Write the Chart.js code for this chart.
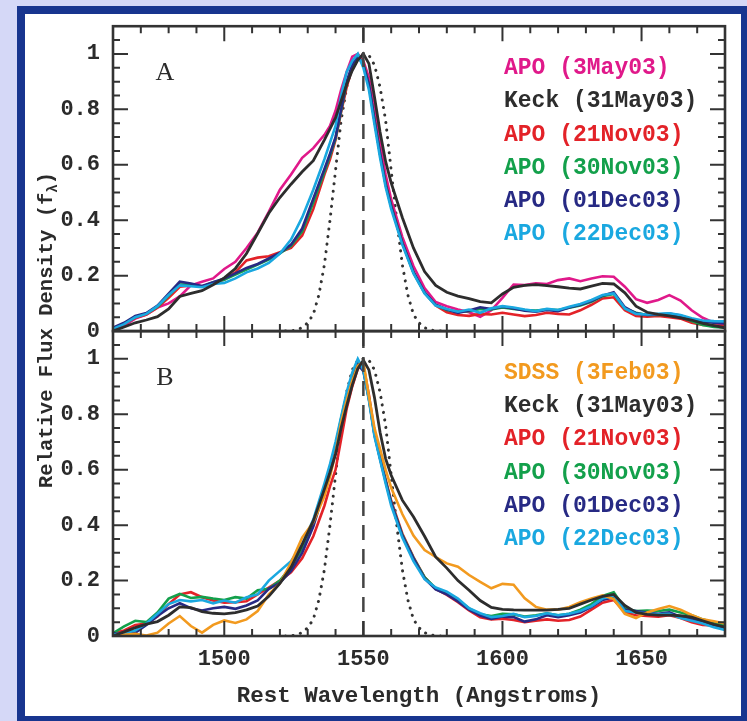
<!DOCTYPE html>
<html>
<head>
<meta charset="utf-8">
<script src="https://cdn.jsdelivr.net/npm/chart.js@4.4.0/dist/chart.umd.min.js"></script>
<style>
  html, body { margin: 0; padding: 0; background: #d5d8f7; overflow: hidden; }
  #frame { position: absolute; left: 17px; top: 6px; width: 716px; height: 702px; border: 8px solid #18358f; background: #fff; }
  #chart { position: absolute; left: 0; top: 0; }
</style>
</head>
<body>
<div id="frame"></div>
<canvas id="chart" width="747" height="721"></canvas>
<script>
// wavelength grid (Angstroms) shared by all spectra
const wave = [1460,1464,1468,1472,1476,1480,1484,1488,1492,1496,1500,1504,1508,1512,1516,1520,1524,1528,1532,1536,
  1538,1540,1542,1544,1546,1548,1550,1552,1554,1556,1558,1560,1564,1568,1572,1576,1580,1584,1588,1592,
  1596,1600,1604,1608,1612,1616,1620,1624,1628,1632,1636,1640,1644,1648,1652,1656,1660,1664,1668,1672,1676,1680];

// panel A
const apoMay3A = [0.005,0.020,0.045,0.060,0.085,0.100,0.125,0.165,0.178,0.190,
  0.224,0.250,0.300,0.355,0.430,0.510,0.565,0.625,0.660,0.708,
  0.740,0.795,0.870,0.935,0.990,1.000,0.975,0.915,0.805,0.680,
  0.565,0.475,0.340,0.235,0.155,0.105,0.090,0.078,0.068,0.052,
  0.075,0.120,0.168,0.166,0.172,0.170,0.184,0.190,0.180,0.190,
  0.198,0.196,0.160,0.115,0.102,0.112,0.130,0.110,0.075,0.048,0.030,0.022];
const keckA = [0.000,0.015,0.030,0.040,0.052,0.080,0.125,0.136,0.146,0.167,
  0.192,0.226,0.280,0.352,0.425,0.482,0.530,0.575,0.615,0.690,
  0.730,0.770,0.830,0.890,0.940,0.978,1.000,0.965,0.845,0.718,
  0.612,0.535,0.410,0.300,0.215,0.165,0.140,0.126,0.117,0.106,
  0.102,0.134,0.158,0.165,0.168,0.164,0.160,0.155,0.152,0.162,
  0.172,0.170,0.138,0.090,0.068,0.060,0.055,0.048,0.040,0.028,0.020,0.012];
const apoNov21A = [0.010,0.025,0.048,0.060,0.085,0.120,0.160,0.165,0.162,0.172,
  0.186,0.212,0.255,0.265,0.270,0.285,0.300,0.345,0.440,0.565,
  0.620,0.690,0.790,0.880,0.950,0.990,0.970,0.885,0.760,0.640,
  0.535,0.455,0.320,0.212,0.138,0.092,0.068,0.058,0.055,0.062,
  0.060,0.066,0.060,0.054,0.058,0.066,0.062,0.060,0.075,0.095,
  0.118,0.122,0.075,0.055,0.052,0.055,0.050,0.045,0.030,0.022,0.020,0.018];
const apoNov30A = [0.010,0.028,0.050,0.063,0.088,0.128,0.168,0.168,0.160,0.176,
  0.185,0.204,0.222,0.240,0.258,0.280,0.308,0.360,0.465,0.575,
  0.632,0.695,0.795,0.895,0.955,0.990,0.965,0.888,0.762,0.638,
  0.530,0.450,0.318,0.212,0.138,0.094,0.076,0.070,0.072,0.080,
  0.078,0.085,0.080,0.076,0.074,0.078,0.076,0.084,0.092,0.106,
  0.126,0.134,0.082,0.066,0.058,0.058,0.060,0.052,0.036,0.022,0.015,0.012];
const apoDec01A = [0.012,0.030,0.055,0.065,0.092,0.135,0.178,0.172,0.163,0.176,
  0.190,0.208,0.228,0.242,0.262,0.282,0.312,0.370,0.478,0.585,
  0.640,0.700,0.800,0.900,0.960,0.992,0.960,0.890,0.760,0.640,
  0.530,0.450,0.318,0.214,0.140,0.095,0.078,0.066,0.074,0.086,
  0.080,0.088,0.082,0.074,0.070,0.076,0.072,0.085,0.095,0.108,
  0.128,0.140,0.086,0.064,0.058,0.060,0.063,0.056,0.043,0.034,0.030,0.028];
const apoDec22A = [0.008,0.025,0.050,0.062,0.090,0.130,0.165,0.162,0.158,0.170,
  0.174,0.190,0.212,0.226,0.246,0.280,0.330,0.410,0.510,0.620,
  0.680,0.740,0.850,0.935,0.975,1.000,0.950,0.870,0.745,0.625,
  0.520,0.440,0.312,0.208,0.136,0.092,0.080,0.070,0.078,0.066,
  0.082,0.090,0.085,0.078,0.072,0.080,0.076,0.088,0.098,0.112,
  0.130,0.136,0.082,0.062,0.060,0.062,0.064,0.058,0.046,0.038,0.036,0.035];

// panel B
const sdssFeb3B = [0.000,0.004,0.008,0.002,0.012,0.045,0.072,0.036,0.012,0.040,
  0.056,0.047,0.060,0.090,0.150,0.190,0.265,0.355,0.410,0.505,
  0.575,0.660,0.770,0.850,0.920,0.975,0.990,0.865,0.750,0.675,
  0.600,0.535,0.440,0.362,0.310,0.285,0.262,0.250,0.220,0.195,
  0.172,0.188,0.185,0.136,0.105,0.095,0.095,0.105,0.122,0.135,
  0.147,0.133,0.080,0.065,0.085,0.097,0.108,0.095,0.076,0.060,0.053,0.045];
const keckB = [0.000,0.015,0.030,0.043,0.052,0.075,0.105,0.102,0.088,0.082,
  0.080,0.084,0.094,0.108,0.143,0.190,0.248,0.330,0.415,0.530,
  0.590,0.655,0.750,0.830,0.905,0.965,0.995,0.960,0.860,0.735,
  0.640,0.580,0.490,0.430,0.360,0.285,0.245,0.200,0.165,0.128,
  0.103,0.096,0.094,0.093,0.093,0.093,0.096,0.100,0.115,0.130,
  0.143,0.150,0.110,0.085,0.078,0.075,0.075,0.073,0.068,0.055,0.042,0.032];
const apoNov21B = [0.010,0.020,0.040,0.045,0.070,0.115,0.150,0.158,0.140,0.128,
  0.120,0.122,0.125,0.150,0.175,0.200,0.230,0.280,0.360,0.470,
  0.540,0.600,0.710,0.820,0.900,0.965,0.975,0.870,0.735,0.648,
  0.565,0.488,0.370,0.285,0.212,0.170,0.148,0.122,0.092,0.068,
  0.060,0.062,0.058,0.050,0.055,0.060,0.055,0.058,0.070,0.095,
  0.120,0.130,0.085,0.075,0.072,0.070,0.075,0.065,0.050,0.040,0.038,0.035];
const apoNov30B = [0.010,0.035,0.055,0.050,0.085,0.135,0.152,0.137,0.141,0.135,
  0.130,0.140,0.135,0.165,0.170,0.200,0.250,0.315,0.405,0.535,
  0.605,0.685,0.785,0.870,0.930,0.985,0.960,0.858,0.728,0.642,
  0.560,0.482,0.365,0.282,0.212,0.172,0.152,0.130,0.100,0.078,
  0.072,0.080,0.078,0.070,0.075,0.082,0.075,0.080,0.095,0.115,
  0.145,0.158,0.100,0.090,0.092,0.090,0.095,0.085,0.075,0.060,0.048,0.040];
const apoDec01B = [0.010,0.005,0.012,0.040,0.072,0.100,0.118,0.100,0.092,0.100,
  0.105,0.098,0.110,0.128,0.170,0.192,0.235,0.300,0.395,0.525,
  0.600,0.680,0.780,0.865,0.920,0.980,0.955,0.855,0.725,0.640,
  0.558,0.480,0.362,0.280,0.208,0.168,0.150,0.125,0.095,0.074,
  0.062,0.070,0.068,0.052,0.060,0.075,0.068,0.075,0.085,0.105,
  0.130,0.140,0.095,0.090,0.085,0.080,0.085,0.070,0.060,0.050,0.040,0.030];
const apoDec22B = [0.005,0.010,0.020,0.045,0.080,0.115,0.130,0.125,0.130,0.118,
  0.128,0.120,0.140,0.150,0.200,0.235,0.270,0.330,0.420,0.550,
  0.620,0.700,0.790,0.880,0.950,1.000,0.960,0.850,0.720,0.635,
  0.550,0.470,0.355,0.270,0.205,0.175,0.160,0.135,0.100,0.082,
  0.068,0.072,0.080,0.068,0.072,0.082,0.075,0.080,0.090,0.108,
  0.135,0.145,0.090,0.085,0.082,0.078,0.080,0.065,0.055,0.045,0.032,0.022];

// narrow model profile (dotted) and line centre (dashed)
const modelWave = [1522,1524,1526,1528,1530,1532,1534,1536,1538,1540,1542,1544,1546,1548,1550,
  1552,1554,1556,1558,1560,1562,1564,1566,1568,1570,1572,1574,1576,1578];
const modelFlux = [0.000,0.000,0.005,0.012,0.030,0.060,0.130,0.240,0.400,0.580,0.760,0.880,0.960,0.995,1.000,
  0.995,0.960,0.880,0.760,0.580,0.400,0.240,0.130,0.060,0.030,0.012,0.005,0.000,0.000];
const lineCenter = 1550;

const xTicks = [1500, 1550, 1600, 1650];
const yTicks = [0, 0.2, 0.4, 0.6, 0.8, 1];
const xMinorStep = 10;
const yMinorStep = 0.05;

const legendA = [
  ['APO (3May03)', '#e0198a'], ['Keck (31May03)', '#2d2d2d'], ['APO (21Nov03)', '#e32228'],
  ['APO (30Nov03)', '#13a04b'], ['APO (01Dec03)', '#272a84'], ['APO (22Dec03)', '#1aa8e0']];
const legendB = [
  ['SDSS (3Feb03)', '#f29a1f'], ['Keck (31May03)', '#2d2d2d'], ['APO (21Nov03)', '#e32228'],
  ['APO (30Nov03)', '#13a04b'], ['APO (01Dec03)', '#272a84'], ['APO (22Dec03)', '#1aa8e0']];

const INK = '#2b2b2b';
const MONO = '"Liberation Mono", "DejaVu Sans Mono", monospace';

function pts(xs, ys) { return xs.map((x, i) => ({ x, y: ys[i] })); }

function spec(label, data, color, axis, order, width) {
  return { label, data: pts(wave, data), yAxisID: axis, borderColor: color, borderWidth: width || 2.6,
    pointRadius: 0, tension: 0, order };
}
function model(axis) {
  return { label: 'model', data: pts(modelWave, modelFlux), yAxisID: axis, borderColor: '#333',
    borderWidth: 3, borderDash: [0.1, 7.5], borderCapStyle: 'round', pointRadius: 0, order: 9 };
}
function centre(axis) {
  return { label: 'centre', data: [{ x: lineCenter, y: 0 }, { x: lineCenter, y: 1.1 }], yAxisID: axis,
    borderColor: '#444', borderWidth: 2.5, borderDash: [15, 9], pointRadius: 0, order: 0 };
}

const datasets = [
  centre('yA'),
  spec('Keck (31May03)', keckA, '#2d2d2d', 'yA', 1, 2.8),
  spec('APO (22Dec03)', apoDec22A, '#1aa8e0', 'yA', 2),
  spec('APO (01Dec03)', apoDec01A, '#272a84', 'yA', 3),
  spec('APO (30Nov03)', apoNov30A, '#13a04b', 'yA', 4),
  spec('APO (21Nov03)', apoNov21A, '#e32228', 'yA', 5),
  spec('APO (3May03)', apoMay3A, '#e0198a', 'yA', 6),
  model('yA'),
  centre('yB'),
  spec('Keck (31May03)', keckB, '#2d2d2d', 'yB', 1, 2.8),
  spec('SDSS (3Feb03)', sdssFeb3B, '#f29a1f', 'yB', 2),
  spec('APO (22Dec03)', apoDec22B, '#1aa8e0', 'yB', 3),
  spec('APO (01Dec03)', apoDec01B, '#272a84', 'yB', 4),
  spec('APO (30Nov03)', apoNov30B, '#13a04b', 'yB', 5),
  spec('APO (21Nov03)', apoNov21B, '#e32228', 'yB', 6),
  model('yB')
];

function yAxis() {
  return {
    type: 'linear', position: 'left', stack: 'flux', stackWeight: 1, min: 0, max: 1.1,
    afterBuildTicks: s => { s.ticks = yTicks.map(v => ({ value: v })); },
    afterFit: s => { s.width = 88; },
    grid: { display: false, drawTicks: false }, border: { display: false },
    ticks: { color: INK, padding: 13, font: { family: MONO, size: 22, weight: 'bold' },
      callback: v => String(v) }
  };
}

const framePlugin = {
  id: 'framePlugin',
  afterDraw(chart) {
    const ctx = chart.ctx;
    const x = chart.scales.x;
    const left = chart.chartArea.left, right = chart.chartArea.right;
    ctx.save();
    ctx.strokeStyle = '#333';
    [['yA', 'A', legendA], ['yB', 'B', legendB]].forEach(([id, tag, legend]) => {
      const y = chart.scales[id];
      const top = y.top, bottom = y.bottom;
      ctx.lineWidth = 2;
      ctx.beginPath();
      for (let v = x.min + xMinorStep; v < x.max; v += xMinorStep) {
        const px = x.getPixelForValue(v);
        const len = xTicks.includes(v) ? 15 : 7;
        ctx.moveTo(px, top); ctx.lineTo(px, top + len);
        ctx.moveTo(px, bottom); ctx.lineTo(px, bottom - len);
      }
      const n = Math.round((y.max - y.min) / yMinorStep);
      for (let i = 1; i < n; i++) {
        const v = +(i * yMinorStep).toFixed(2);
        const py = y.getPixelForValue(v);
        const len = yTicks.includes(v) ? 15 : 7;
        ctx.moveTo(left, py); ctx.lineTo(left + len, py);
        ctx.moveTo(right, py); ctx.lineTo(right - len, py);
      }
      ctx.stroke();
      ctx.lineWidth = 2.6;
      ctx.strokeRect(left, top, right - left, bottom - top);

      ctx.fillStyle = INK;
      ctx.font = '26px "Liberation Serif", serif';
      ctx.textAlign = 'center';
      ctx.textBaseline = 'middle';
      ctx.fillText(tag, 165, top + 47);

      ctx.font = 'bold 23px ' + MONO;
      ctx.textAlign = 'left';
      legend.forEach(([text, color], i) => {
        ctx.fillStyle = color;
        ctx.fillText(text, 504, top + 42 + i * 33.3);
      });
    });

    // axis titles
    ctx.fillStyle = INK;
    ctx.font = 'bold 22.5px ' + MONO;
    ctx.textAlign = 'center';
    ctx.textBaseline = 'middle';
    ctx.fillText('Rest Wavelength (Angstroms)', (left + right) / 2, 696);

    ctx.translate(47, 330);
    ctx.rotate(-Math.PI / 2);
    const main = 'Relative Flux Density (f';
    const big = 'bold 20.5px ' + MONO, small = 'bold 14px ' + MONO;
    ctx.font = big; const w1 = ctx.measureText(main).width, w3 = ctx.measureText(')').width;
    ctx.font = small; const w2 = ctx.measureText('λ').width;
    let cx = -(w1 + w2 + w3) / 2;
    ctx.textAlign = 'left';
    ctx.font = big; ctx.fillText(main, cx, 0); cx += w1;
    ctx.font = small; ctx.fillText('λ', cx, 6); cx += w2;
    ctx.font = big; ctx.fillText(')', cx, 0);
    ctx.restore();
  }
};

new Chart(document.getElementById('chart'), {
  type: 'line',
  data: { datasets },
  options: {
    responsive: false,
    animation: false,
    devicePixelRatio: 1,
    layout: { padding: { left: 25, right: 22, top: 23, bottom: 0 } },
    plugins: { legend: { display: false }, tooltip: { enabled: false } },
    scales: {
      x: {
        type: 'linear', min: 1460, max: 1680,
        afterBuildTicks: s => { s.ticks = xTicks.map(v => ({ value: v })); },
        afterFit: s => { s.height = 85; },
        grid: { display: false, drawTicks: false }, border: { display: false },
        ticks: { color: INK, padding: 10, maxRotation: 0, font: { family: MONO, size: 22, weight: 'bold' },
          callback: v => String(v) }
      },
      // stacked axes are laid out bottom-up, so the lower panel comes first
      yB: yAxis(),
      yA: yAxis()
    }
  },
  plugins: [framePlugin]
});
</script>
</body>
</html>
